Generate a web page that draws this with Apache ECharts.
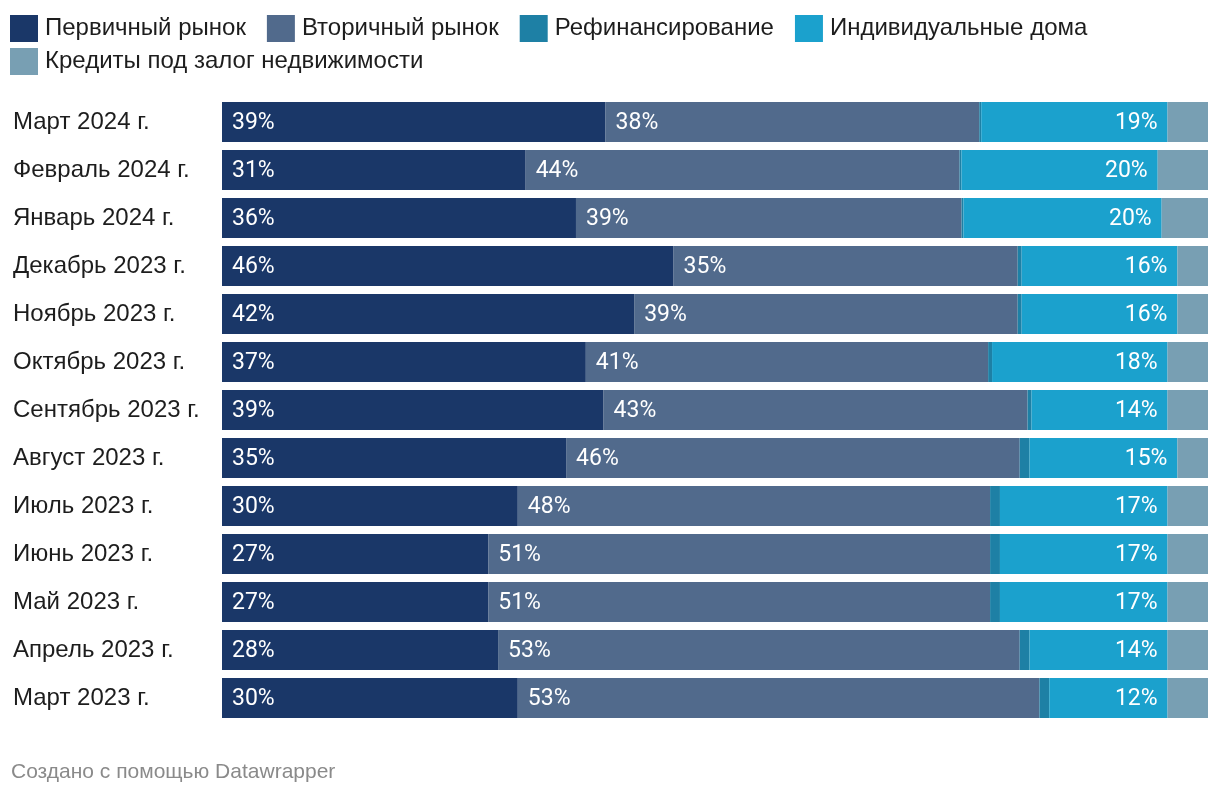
<!DOCTYPE html>
<html>
<head>
<meta charset="utf-8">
<script src="https://cdn.jsdelivr.net/npm/echarts@6/dist/echarts.min.js"></script>
<style>
html,body{margin:0;padding:0;background:#fff;}
#chart{width:1220px;height:796px;}
</style>
</head>
<body>
<div id="chart"></div>
<script>
const categories = ["Март 2024 г.","Февраль 2024 г.","Январь 2024 г.","Декабрь 2023 г.","Ноябрь 2023 г.","Октябрь 2023 г.","Сентябрь 2023 г.","Август 2023 г.","Июль 2023 г.","Июнь 2023 г.","Май 2023 г.","Апрель 2023 г.","Март 2023 г."];
const seriesNames = ["Первичный рынок","Вторичный рынок","Рефинансирование","Индивидуальные дома","Кредиты под залог недвижимости"];
const primary   = [38.9,30.8,35.9,45.8,41.8,36.9,38.7,34.9,30.0,27.0,27.0,28.0,30.0];
const secondary = [37.9,44.0,39.1,34.9,38.9,40.8,43.0,46.0,47.9,50.9,50.9,52.9,52.9];
const refinance = [0.2,0.2,0.2,0.4,0.4,0.4,0.4,1.0,1.0,1.0,1.0,1.0,1.0];
const houses    = [18.9,19.9,20.1,15.8,15.8,17.8,13.8,15.0,17.0,17.0,17.0,14.0,12.0];
const mortgage  = [4.1,5.1,4.7,3.1,3.1,4.1,4.1,3.1,4.1,4.1,4.1,4.1,4.1];
const colors = ["#1a3768","#516a8c","#1e80a5","#1ba1cd","#789fb3"];

const valueLists = [primary, secondary, refinance, houses, mortgage];
const labelPos = ["insideLeft","insideLeft",null,"insideRight",null];

const chart = echarts.init(document.getElementById('chart'), null, {renderer:'canvas'});
const series = seriesNames.map((name, i) => ({
  name: name,
  type: 'bar',
  stack: 'total',
  barWidth: 40,
  data: valueLists[i],
  itemStyle: {color: colors[i]},
  emphasis: {disabled: true},
  label: labelPos[i] ? {
    show: true,
    position: labelPos[i],
    distance: 10,
    offset: [0, 1],
    color: '#ffffff',
    fontFamily: 'Roboto',
    fontSize: 23,
    formatter: p => Math.round(p.value) + '%'
  } : {show: false}
}));

const textFont = '"Liberation Sans", Arial, sans-serif';
const legendText = {fontFamily: textFont, fontSize: 24, color: '#1d1d1d', padding: [0, 0, 0, 2]};
const legendBase = {left: 10, icon: 'rect', itemWidth: 28, itemHeight: 27, itemGap: 21, padding: 0, textStyle: legendText, selectedMode: false};
chart.setOption({
  animation: false,
  color: colors,
  legend: [
    Object.assign({data: seriesNames.slice(0,4), top: 15}, legendBase),
    Object.assign({data: seriesNames.slice(4), top: 48}, legendBase)
  ],
  grid: {left: 222, right: 12, top: 98, bottom: 74},
  xAxis: {type: 'value', min: 0, max: 100, show: false},
  yAxis: {
    type: 'category',
    data: categories,
    inverse: true,
    axisLine: {show: false},
    axisTick: {show: false},
    axisLabel: {align: 'left', margin: 209, padding: [2, 0, 0, 0], fontFamily: textFont, fontSize: 24, color: '#1d1d1d'}
  },
  graphic: [{
    type: 'text', left: 11, top: 762,
    style: {text: 'Создано с помощью Datawrapper', fontFamily: textFont, fontSize: 21, fill: '#8a8a8a'}
  }],
  series: series
});
</script>
</body>
</html>
